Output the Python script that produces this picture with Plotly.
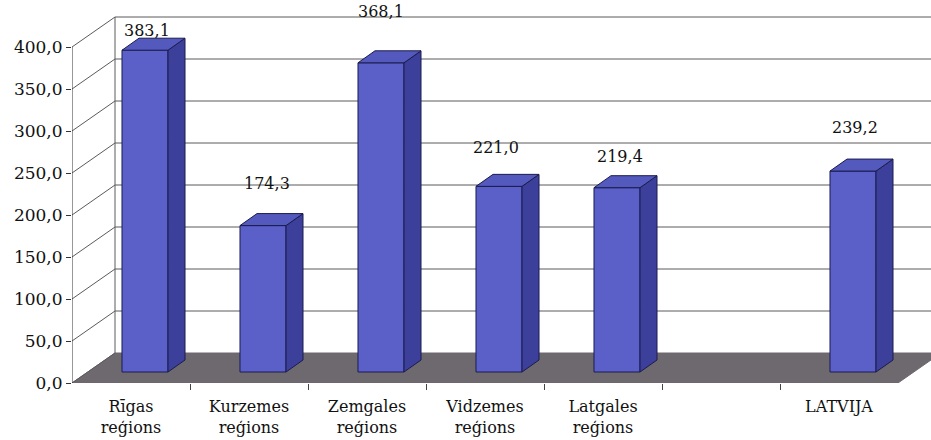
import plotly.graph_objects as go

# ---- data ----
categories = ["Rīgas<br>reģions", "Kurzemes<br>reģions", "Zemgales<br>reģions",
              "Vidzemes<br>reģions", "Latgales<br>reģions", "", "LATVIJA"]
values = [383.1, 174.3, 368.1, 221.0, 219.4, None, 239.2]
y_ticks = [0, 50, 100, 150, 200, 250, 300, 350, 400]

# ---- style (3D projection, in axis units) ----
W_PX, H_PX = 931, 440
M_L, M_B = 72, 57
PX_PER_CAT = 118.0
PX_PER_VAL = 0.84
WALL_DX, WALL_DY = 43 / PX_PER_CAT, 30 / PX_PER_VAL      # back wall depth
BAR_DX, BAR_DY = 14 / PX_PER_CAT, 11 / PX_PER_VAL        # bar front-face depth
DEP_DX, DEP_DY = 17 / PX_PER_CAT, 12 / PX_PER_VAL        # bar thickness
BAR_W = 0.39
label_lift_px = [20, 42, 51, 39, 31, 0, 44]
label_dx_px = [2, 4, 0, -3, 3, 0, 2]

FRONT = "#5b60c9"
SIDE = "#3c409a"
TOP = "#5459be"
EDGE = "#1b1c4e"
FLOOR = "#6e686f"
GRID = "#5a5a5a"
FONT = "DejaVu Serif"

n = len(categories)
x0 = -0.5
x_end = n - 0.5
x_max = x0 + (W_PX - M_L) / PX_PER_CAT
y_max = (H_PX - M_B) / PX_PER_VAL
top_tick = max(y_ticks)

fig = go.Figure()
shapes = []

# floor
shapes.append(dict(type="path", layer="below", line=dict(color=FLOOR, width=1), fillcolor=FLOOR,
                   path=f"M {x0},0 L {x_end},0 L {x_end + WALL_DX},{WALL_DY} "
                        f"L {x0 + WALL_DX},{WALL_DY} Z"))
# gridlines on back wall and left wall
for t in y_ticks:
    if t > 0:
        shapes.append(dict(type="line", layer="below", x0=x0 + WALL_DX, x1=x_max,
                           y0=t + WALL_DY, y1=t + WALL_DY, line=dict(color=GRID, width=1)))
    shapes.append(dict(type="line", layer="below", x0=x0, x1=x0 + WALL_DX,
                       y0=t, y1=t + WALL_DY, line=dict(color=GRID, width=1)))
# back wall left edge and front axis line
shapes.append(dict(type="line", layer="below", x0=x0 + WALL_DX, x1=x0 + WALL_DX,
                   y0=WALL_DY, y1=top_tick + WALL_DY, line=dict(color=GRID, width=1)))
shapes.append(dict(type="line", layer="below", x0=x0, x1=x0, y0=0, y1=top_tick,
                   line=dict(color="#333333", width=1)))

# bars: front faces
xs, ys = [], []
for i, v in enumerate(values):
    if v is not None:
        xs.append(i + BAR_DX)
        ys.append(v)
fig.add_trace(go.Bar(x=xs, y=ys, base=BAR_DY, width=BAR_W,
                     marker=dict(color=FRONT, line=dict(color=EDGE, width=1)),
                     hoverinfo="skip", showlegend=False))

# side and top faces
sx, sy, tx, ty = [], [], [], []
h = BAR_W / 2
for i, v in enumerate(values):
    if v is None:
        continue
    c = i + BAR_DX
    b = BAR_DY
    sx += [c + h, c + h, c + h + DEP_DX, c + h + DEP_DX, c + h, None]
    sy += [b, b + v, b + v + DEP_DY, b + DEP_DY, b, None]
    tx += [c - h, c + h, c + h + DEP_DX, c - h + DEP_DX, c - h, None]
    ty += [b + v, b + v, b + v + DEP_DY, b + v + DEP_DY, b + v, None]
fig.add_trace(go.Scatter(x=sx, y=sy, mode="lines", fill="toself", fillcolor=SIDE,
                         line=dict(color=EDGE, width=1), hoverinfo="skip", showlegend=False))
fig.add_trace(go.Scatter(x=tx, y=ty, mode="lines", fill="toself", fillcolor=TOP,
                         line=dict(color=EDGE, width=1), hoverinfo="skip", showlegend=False))

# value labels
annotations = []
for i, v in enumerate(values):
    if v is None:
        continue
    annotations.append(dict(x=i + BAR_DX, y=BAR_DY + v, text=f"{v:.1f}".replace(".", ","),
                            showarrow=False, yanchor="middle", xanchor="center",
                            xshift=label_dx_px[i], yshift=label_lift_px[i],
                            font=dict(family=FONT, size=16, color="#111111")))

fig.update_layout(
    width=W_PX, height=H_PX,
    margin=dict(l=M_L, r=0, t=0, b=M_B, pad=0),
    paper_bgcolor="white", plot_bgcolor="white",
    separators=", ",
    shapes=shapes, annotations=annotations,
    showlegend=False,
    xaxis=dict(range=[x0, x_max], tickmode="array", tickvals=list(range(n)),
               ticktext=categories, ticks="", showgrid=False, zeroline=False,
               showline=False, ticklabelstandoff=12,
               tickfont=dict(family=FONT, size=16, color="#111111"),
               minor=dict(tickmode="array", tickvals=[k + 0.5 for k in range(n - 1)],
                          ticks="outside", ticklen=6, tickcolor="#444444", showgrid=False)),
    yaxis=dict(range=[0, y_max], tickmode="array", tickvals=y_ticks, tickformat=".1f",
               ticks="outside", ticklen=5, tickcolor="#333333", showgrid=False,
               zeroline=False, showline=False,
               tickfont=dict(family=FONT, size=17, color="#111111")),
)

fig.write_html("out.html")
